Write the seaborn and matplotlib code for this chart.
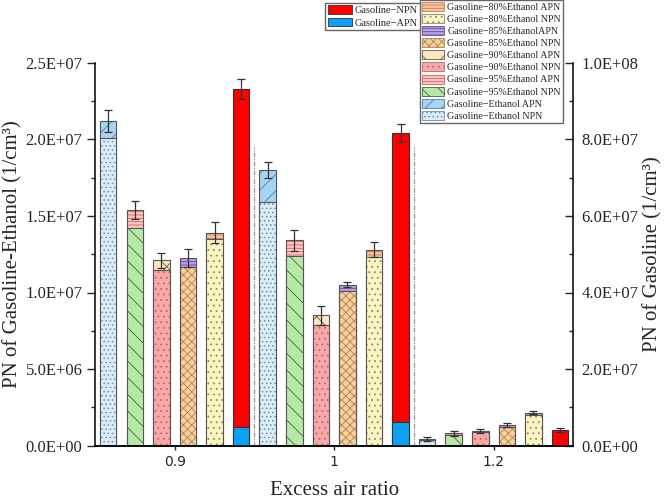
import matplotlib
matplotlib.use("Agg")
import matplotlib.pyplot as plt
from matplotlib.patches import Patch
from matplotlib.ticker import FuncFormatter, MultipleLocator, AutoMinorLocator
import numpy as np
import pandas as pd
import seaborn as sns

# excess air ratio groups
lambdas = ["0.9", "1", "1.2"]

# gasoline-ethanol blends, left axis (PN, 1/cm3)
blends = ["Ethanol", "95%", "90%", "85%", "80%"]
npn = {
    "Ethanol": [2.01e7, 1.59e7, 3.5e5],
    "95%": [1.42e7, 1.24e7, 7.0e5],
    "90%": [1.15e7, 0.79e7, 8.7e5],
    "85%": [1.165e7, 1.01e7, 1.24e6],
    "80%": [1.35e7, 1.23e7, 2.00e6],
}
apn = {
    "Ethanol": [1.1e6, 2.1e6, 9e4],
    "95%": [1.2e6, 1.0e6, 1.1e5],
    "90%": [6e5, 6e5, 9e4],
    "85%": [6e5, 4e5, 1.1e5],
    "80%": [4e5, 5e5, 1.5e5],
}
err = {
    "Ethanol": [7e5, 5.5e5, 1.1e5],
    "95%": [6e5, 6.7e5, 1.7e5],
    "90%": [5e5, 6e5, 1.5e5],
    "85%": [6e5, 1.7e5, 1.1e5],
    "80%": [7e5, 4.8e5, 9e4],
}

# pure gasoline, right axis
gas_npn = [8.81e7, 7.54e7, 4.1e6]
gas_apn = [5.0e6, 6.3e6, 0.0]
gas_err = [2.7e6, 2.3e6, 4e5]

# styles: (npn face, npn hatch colour, npn hatch, apn face, apn hatch colour, apn hatch)
styles = {
    "Ethanol": ("#d9ecf8", "#6f8fa8", "....", "#a8d4f4", "#4f7fa6", "//"),
    "95%": ("#b8e8a8", "#3f6a3a", "\\\\", "#f8c8c8", "#d9605a", "-----"),
    "90%": ("#f8a8a8", "#b86a6a", "...", "#fbe6c2", "#6a5a40", "x"),
    "85%": ("#f8d0a0", "#b0824a", "xxxx", "#b9a0e0", "#6a4aa0", "-----"),
    "80%": ("#fbf5c0", "#8a8a6a", "...", "#f5c6a5", "#d07a4a", "-----"),
}
legend_names = {
    "80%": ("Gasoline−80%Ethanol APN", "Gasoline−80%Ethanol NPN"),
    "85%": ("Gasoline−85%EthanolAPN", "Gasoline−85%Ethanol NPN"),
    "90%": ("Gasoline−90%Ethanol APN", "Gasoline−90%Ethanol NPN"),
    "95%": ("Gasoline−95%Ethanol APN", "Gasoline−95%Ethanol NPN"),
    "Ethanol": ("Gasoline−Ethanol APN", "Gasoline−Ethanol NPN"),
}

sns.set_style("ticks")
plt.rcParams["font.family"] = ["Liberation Serif", "DejaVu Sans"]
plt.rcParams["hatch.linewidth"] = 0.6

slots = [f"{l}|{b}" for l in lambdas for b in blends + ["Gasoline"]]

fig = plt.figure(figsize=(6.66, 5), dpi=100)
fig.subplots_adjust(left=0.1426, right=0.8608, bottom=0.1086, top=0.8746)
ax = fig.add_subplot(111)
ax2 = ax.twinx()

W = 0.62
edge = "#555555"
for b in blends:
    fn, hn, pn, fa, ha, pa = styles[b]
    xs = [f"{l}|{b}" for l in lambdas]
    tot = np.array(npn[b]) + np.array(apn[b])
    df = pd.DataFrame({"slot": xs, "npn": npn[b], "total": tot})
    # APN segment (full height, covered below by NPN)
    sns.barplot(data=df, x="slot", y="total", order=slots, color=fa, saturation=1,
                width=W, hatch=pa, edgecolor=ha, linewidth=0, ax=ax)
    sns.barplot(data=df, x="slot", y="total", order=slots, color=edge, fill=False,
                width=W, linewidth=0.8, ax=ax)
    sns.barplot(data=df, x="slot", y="npn", order=slots, color=fn, saturation=1,
                width=W, hatch=pn, edgecolor=hn, linewidth=0, ax=ax)
    sns.barplot(data=df, x="slot", y="npn", order=slots, color=edge, fill=False,
                width=W, linewidth=0.8, ax=ax)
    pos = [slots.index(s) for s in xs]
    ax.errorbar(pos, tot, yerr=err[b], fmt="none", ecolor="#333333",
                elinewidth=0.9, capsize=3, capthick=0.9, zorder=5)

gx = [f"{l}|Gasoline" for l in lambdas]
gtot = np.array(gas_npn) + np.array(gas_apn)
gdf = pd.DataFrame({"slot": gx, "total": gtot, "apn": gas_apn})
sns.barplot(data=gdf, x="slot", y="total", order=slots, color="#ff0000", saturation=1,
            width=W, edgecolor="#333333", linewidth=0.8, ax=ax2)
sns.barplot(data=gdf, x="slot", y="apn", order=slots, color="#0aa0f5", saturation=1,
            width=W, edgecolor="#333333", linewidth=0.8, ax=ax2)
ax2.errorbar([slots.index(s) for s in gx], gtot, yerr=gas_err, fmt="none",
             ecolor="#333333", elinewidth=0.9, capsize=3, capthick=0.9, zorder=5)

for xv in [5.5, 11.5]:
    ax.axvline(xv, ymin=0, ymax=0.78, color="#999999", lw=0.9,
               linestyle=(0, (4, 1, 1, 1)), zorder=0)

ax.set_xlim(-0.5, 17.5)
ax.set_ylim(0, 2.5e7)
ax2.set_ylim(0, 1e8)
ax.set_xticks([2.5, 8.5, 14.5])
ax.set_xticklabels(lambdas, family="DejaVu Sans", fontsize=10)
ax.tick_params(axis="x", direction="out", length=3, width=1, pad=4)

sci = FuncFormatter(lambda v, p: f"{v:.1E}")
ax.yaxis.set_major_locator(MultipleLocator(5e6))
ax.yaxis.set_minor_locator(AutoMinorLocator(2))
ax.yaxis.set_major_formatter(sci)
ax.tick_params(axis="y", which="major", direction="out", length=6, width=1,
               labelsize=12, pad=3)
ax.tick_params(axis="y", which="minor", direction="out", length=3, width=1)
ax2.yaxis.set_major_locator(MultipleLocator(2e7))
ax2.yaxis.set_minor_locator(AutoMinorLocator(2))
ax2.yaxis.set_major_formatter(sci)
ax2.tick_params(axis="y", which="major", direction="in", length=6, width=1,
                labelsize=12, pad=6)
ax2.tick_params(axis="y", which="minor", direction="in", length=3, width=1)

for a in (ax, ax2):
    a.spines["top"].set_visible(False)
    for s in a.spines.values():
        s.set_color("black")
        s.set_linewidth(1.1)
ax.spines["right"].set_visible(False)
ax2.spines["left"].set_visible(False)

ax.set_xlabel("Excess air ratio", fontsize=15, labelpad=8)
ax.set_ylabel("PN of Gasoline-Ethanol (1/cm³)", fontsize=15, labelpad=2)
ax2.set_ylabel("PN of Gasoline (1/cm³)", fontsize=15, labelpad=3)

# legends
h_eth = []
l_eth = []
for b in ["80%", "85%", "90%", "95%", "Ethanol"]:
    fn, hn, pn, fa, ha, pa = styles[b]
    h_eth.append(Patch(facecolor=fa, edgecolor=ha, hatch=pa, linewidth=0.6))
    l_eth.append(legend_names[b][0])
    h_eth.append(Patch(facecolor=fn, edgecolor=hn, hatch=pn, linewidth=0.6))
    l_eth.append(legend_names[b][1])
leg2 = fig.legend(h_eth, l_eth, loc="upper left", bbox_to_anchor=(0.631, 1.0),
                  fontsize=7.2, frameon=True, fancybox=False, framealpha=1,
                  edgecolor="#666666", borderaxespad=0, borderpad=0.2,
                  labelspacing=0.22, handlelength=2.2, handleheight=1.0,
                  handletextpad=0.3)
leg2.get_frame().set_linewidth(1.0)
h_gas = [Patch(facecolor="#ff0000", edgecolor="#333333", linewidth=0.6),
         Patch(facecolor="#0aa0f5", edgecolor="#333333", linewidth=0.6)]
leg1 = fig.legend(h_gas, ["Gasoline−NPN", "Gasoline−APN"], loc="upper left",
                  bbox_to_anchor=(0.488, 0.995), fontsize=7.5, frameon=True,
                  fancybox=False, framealpha=1, edgecolor="#666666",
                  borderaxespad=0, borderpad=0.25, labelspacing=0.25,
                  handlelength=2.3, handleheight=0.9, handletextpad=0.3)
leg1.get_frame().set_linewidth(1.0)

fig.savefig("out.png", dpi=100)
